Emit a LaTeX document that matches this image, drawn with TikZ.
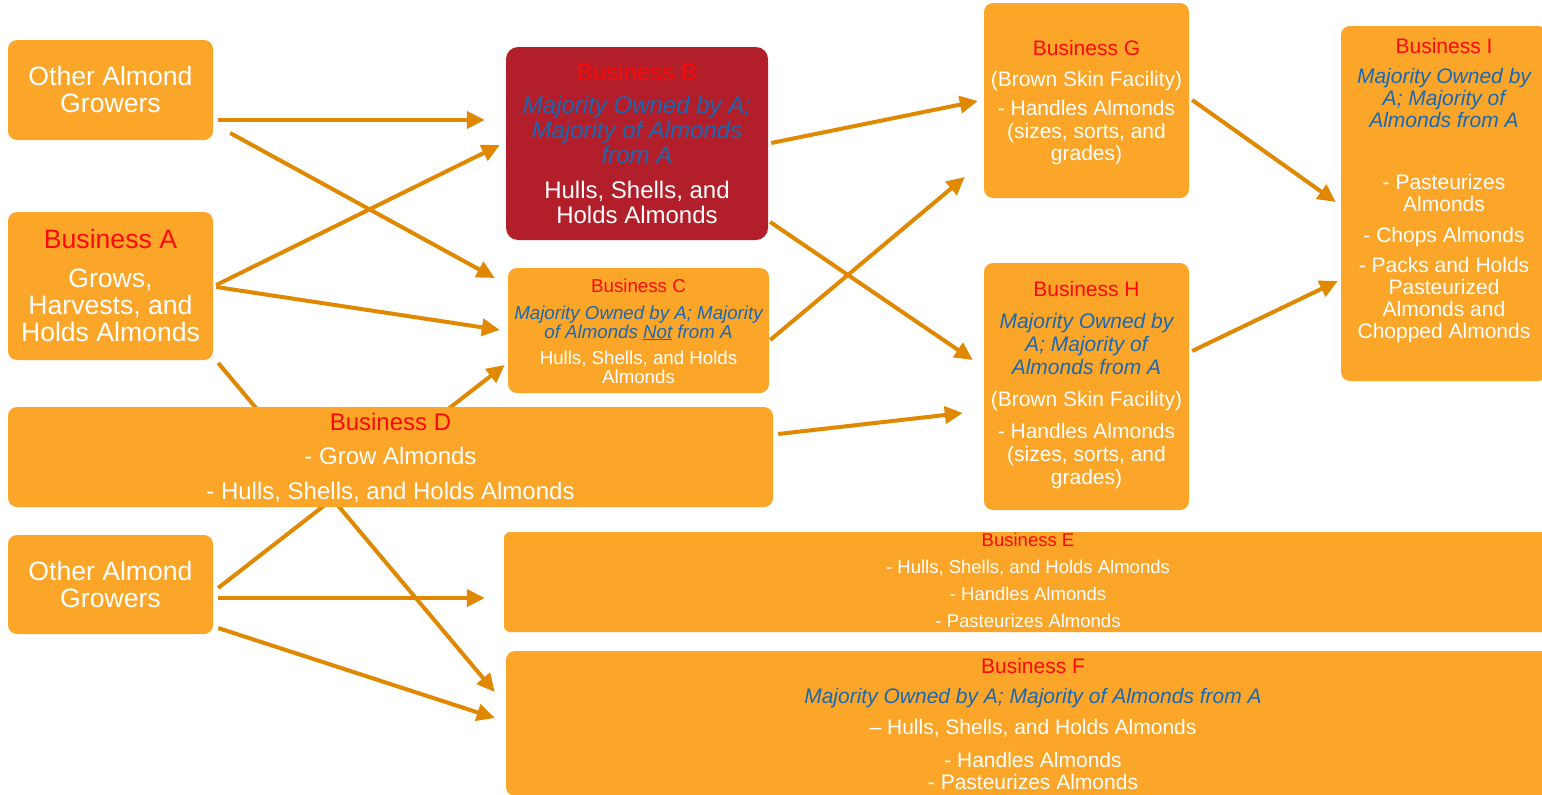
\documentclass[tikz,border=0pt]{standalone}
\usepackage{fontspec}
\setmainfont{Liberation Sans}
\usetikzlibrary{arrows.meta,backgrounds}
\definecolor{boxorange}{RGB}{252,166,41}
\definecolor{boxred}{RGB}{178,31,42}
\definecolor{arrcol}{RGB}{224,136,0}
\definecolor{titred}{RGB}{250,10,10}
\definecolor{txtblue}{RGB}{26,104,178}
\newcommand{\bl}[1]{{\color{txtblue}\itshape #1}}
\newcommand{\tl}[1]{{\color{titred}#1}}
\begin{document}
\begin{tikzpicture}[x=1pt,y=-1pt,
  box/.style={rectangle, rounded corners=9pt, fill=boxorange, draw=none, inner sep=0pt},
  txt/.style={anchor=north, align=center, inner sep=0pt, text=white},
  arr/.style={draw=arrcol, line width=4pt, -{Triangle[length=18pt,width=17pt]}},
  fsA/.style={font=\fontsize{26.6pt}{27pt}\selectfont},
  fsB/.style={font=\fontsize{24pt}{25pt}\selectfont}]
\useasboundingbox (0,0) rectangle (1542,795);
\clip (0,0) rectangle (1542,795);
% boxes
\node[box, minimum width=205pt, minimum height=100pt] (oag1) at (110.5,90) {};
\node[box, minimum width=205pt, minimum height=148pt] (bA) at (110.5,286) {};
\node[box, fill=boxred, rounded corners=12pt, minimum width=262pt, minimum height=193pt] (bB) at (637,143.5) {};
\node[box, minimum width=261pt, minimum height=125pt] (bC) at (638.5,330.5) {};
\node[box, minimum width=765pt, minimum height=100pt] (bD) at (390.5,457) {};
\node[box, minimum width=205pt, minimum height=99pt] (oag2) at (110.5,584.5) {};
\node[box, rounded corners=6pt, minimum width=1048pt, minimum height=100pt] (bE) at (1028,582) {};
\node[box, minimum width=1054pt, minimum height=145pt] (bF) at (1033,723.5) {};
\node[box, minimum width=205pt, minimum height=195pt] (bG) at (1086.5,100.5) {};
\node[box, minimum width=205pt, minimum height=247pt] (bH) at (1086.5,386.5) {};
\node[box, minimum width=206pt, minimum height=355pt] (bI) at (1444,203.5) {};
% texts
\node[txt, fsA] (toag1) at (110.5,65.6) {Other Almond\\Growers};
\node[txt, fsA] (tA) at (110.5,228.6) {\tl{Business A}\\[12pt]Grows,\\Harvests, and\\Holds Almonds};
\node[txt, fsB] (tB) at (637,63.4) {\tl{Business B}\\[8pt]\bl{Majority Owned by A;}\\\bl{Majority of Almonds}\\\bl{from A}\\[10pt]Hulls, Shells, and\\Holds Almonds};
\node[txt, font=\fontsize{18.7pt}{19pt}\selectfont] (tC) at (638.5,278.3) {\tl{Business C}\\[8pt]\bl{Majority Owned by A; Majority}\\\bl{of Almonds \underline{Not} from A}\\[7pt]Hulls, Shells, and Holds\\Almonds};
\node[txt, fsB] (tD) at (390.5,413.4) {\tl{Business D}\\[9pt]- Grow Almonds\\[10pt]- Hulls, Shells, and Holds Almonds};
\node[txt, fsA] (toag2) at (110.5,560.6) {Other Almond\\Growers};
\node[txt, font=\fontsize{18.5pt}{27pt}\selectfont] (tE) at (1028,533.3) {\tl{Business E}\\- Hulls, Shells, and Holds Almonds\\- Handles Almonds\\- Pasteurizes Almonds};
\node[txt, font=\fontsize{21pt}{22pt}\selectfont] (tF) at (1033,658.4) {\tl{Business F}\\[8pt]\bl{Majority Owned by A; Majority of Almonds from A}\\[9pt]– Hulls, Shells, and Holds Almonds\\[11pt]- Handles Almonds\\- Pasteurizes Almonds};
\node[txt, font=\fontsize{21pt}{22.5pt}\selectfont] (tG) at (1086.5,40.4) {\tl{Business G}\\[8.5pt](Brown Skin Facility)\\[6.5pt]- Handles Almonds\\(sizes, sorts, and\\grades)};
\node[txt, font=\fontsize{21pt}{23pt}\selectfont] (tH) at (1086.5,281.4) {\tl{Business H}\\[9pt]\bl{Majority Owned by}\\\bl{A; Majority of}\\\bl{Almonds from A}\\[9pt](Brown Skin Facility)\\[9pt]- Handles Almonds\\(sizes, sorts, and\\grades)};
\node[txt, font=\fontsize{21pt}{22pt}\selectfont] (tI) at (1444,38.4) {\tl{Business I}\\[8pt]\bl{Majority Owned by}\\\bl{A; Majority of}\\\bl{Almonds from A}\\[40pt]- Pasteurizes\\Almonds\\[9pt]- Chops Almonds\\[8pt]- Packs and Holds\\Pasteurized\\Almonds and\\Chopped Almonds};
% connectors
\begin{pgfonlayer}{background}
\draw[arr] ([shift={(5,30)}]oag1.east) -- ([shift={(-21,-23.5)}]bB.west);
\draw[arr] ([shift={(17,43)}]oag1.east) -- ([shift={(-13,-52.5)}]bC.west);
\draw[arr] ([shift={(3,-1)}]bA.east) -- ([shift={(-6,1.5)}]bB.west);
\draw[arr] ([shift={(3,1)}]bA.east) -- ([shift={(-8,-0.5)}]bC.west);
\draw[arr] ([shift={(5,77)}]bA.east) -- ([shift={(-11,-31.5)}]bF.west);
\draw[arr] ([shift={(5,3.5)}]oag2.east) -- ([shift={(-3,34.5)}]bC.west);
\draw[arr] ([shift={(5,13.5)}]oag2.east) -- ([shift={(-19,16)}]bE.west);
\draw[arr] ([shift={(5,43.5)}]oag2.east) -- ([shift={(-11,-5.5)}]bF.west);
\draw[arr] ([shift={(3,-0.5)}]bB.east) -- ([shift={(-6,0.5)}]bG.west);
\draw[arr] ([shift={(2,78.5)}]bB.east) -- ([shift={(-11,-26.5)}]bH.west);
\draw[arr] ([shift={(1,9.5)}]bC.east) -- ([shift={(-19,76.5)}]bG.west);
\draw[arr] ([shift={(5,-23)}]bD.east) -- ([shift={(-21,26.5)}]bH.west);
\draw[arr] ([shift={(3,-0.5)}]bG.east) -- ([shift={(-5,-1.5)}]bI.west);
\draw[arr] ([shift={(3,-35.5)}]bH.east) -- ([shift={(-3,77.5)}]bI.west);
\end{pgfonlayer}
\end{tikzpicture}
\end{document}
